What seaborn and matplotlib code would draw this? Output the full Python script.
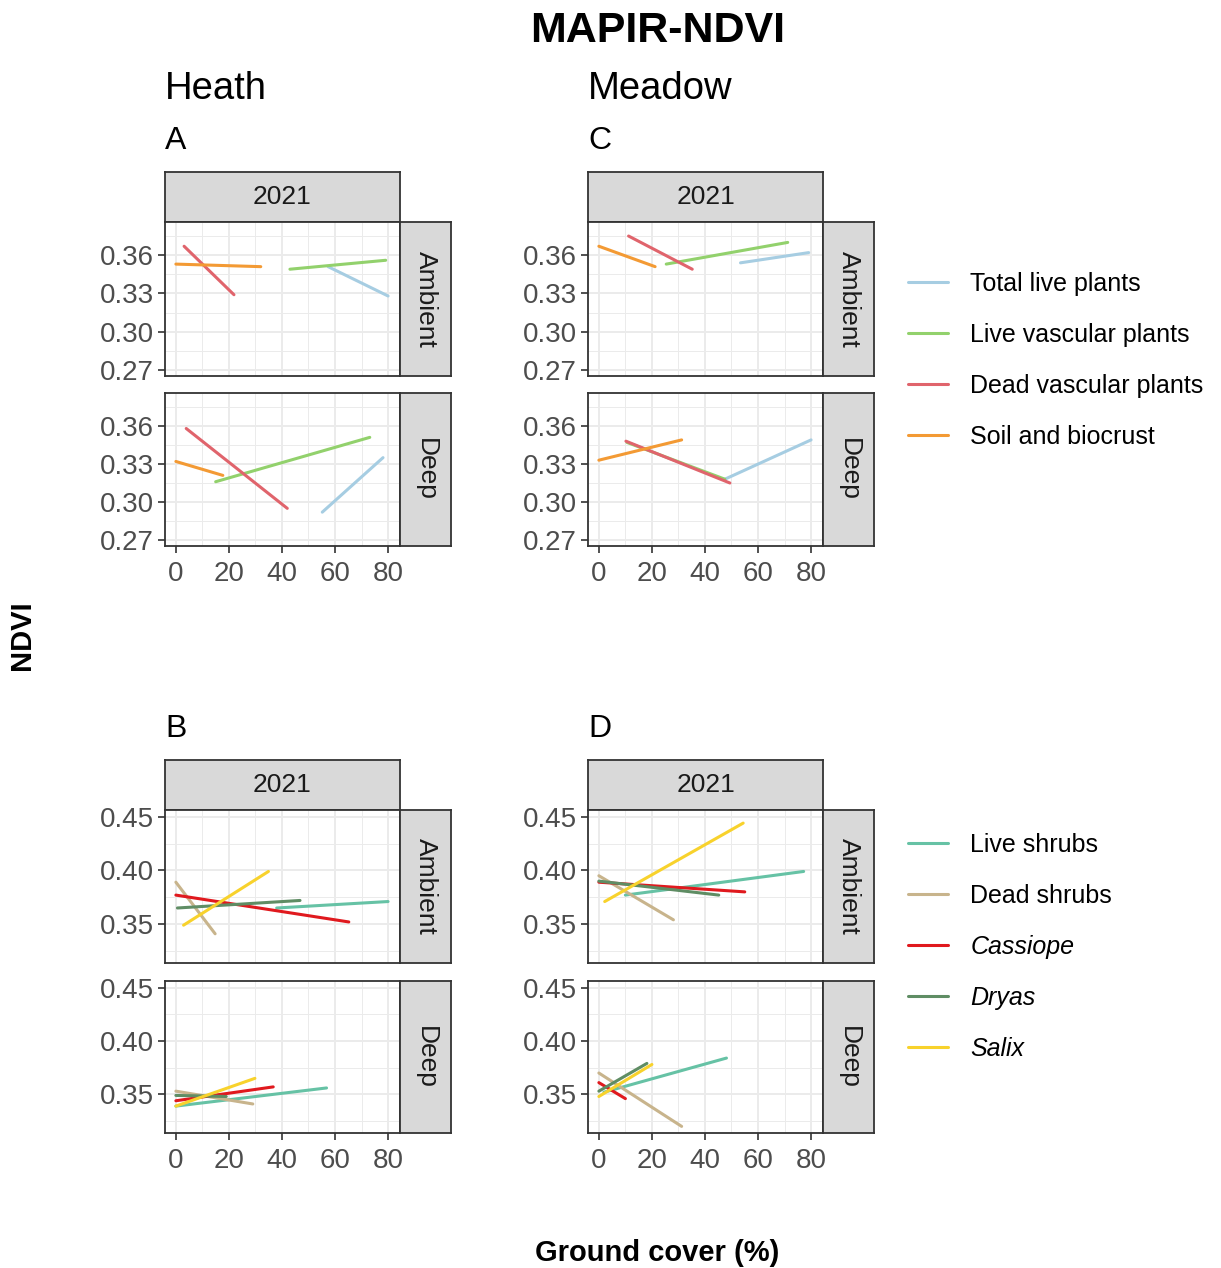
import numpy as np
import pandas as pd
import matplotlib
matplotlib.use("Agg")
import matplotlib.pyplot as plt
import seaborn as sns
from matplotlib.ticker import MultipleLocator

# --------------------------------
# Data (start / end of each fitted line)
# --------------------------------

plant_groups = ["Total live plants", "Live vascular plants", "Dead vascular plants", "Soil and biocrust"]
plant_colors = ["#a6cde2", "#92d16c", "#e0646c", "#f39a34"]

shrub_groups = ["Live shrubs", "Dead shrubs", "Cassiope", "Dryas", "Salix"]
shrub_colors = ["#66c2a5", "#c8b48c", "#e0191e", "#5f8d64", "#f8d22c"]
italic_names = ["Cassiope", "Dryas", "Salix"]

# Heath - plant groups
heath_plants_ambient_x = [[57.4, 80.0], [43.0, 79.1], [3.1, 21.9], [0.0, 32.0]]
heath_plants_ambient_y = [[0.351, 0.328], [0.349, 0.356], [0.367, 0.329], [0.353, 0.351]]
heath_plants_deep_x = [[55.2, 78.1], [15.0, 73.1], [3.9, 42.0], [0.0, 17.7]]
heath_plants_deep_y = [[0.292, 0.335], [0.316, 0.351], [0.358, 0.295], [0.332, 0.321]]

# Meadow - plant groups
meadow_plants_ambient_x = [[53.4, 79.1], [25.4, 71.2], [11.2, 35.2], [0.0, 21.2]]
meadow_plants_ambient_y = [[0.354, 0.362], [0.353, 0.370], [0.375, 0.349], [0.367, 0.351]]
meadow_plants_deep_x = [[47.5, 80.0], [10.6, 47.5], [10.2, 49.4], [0.0, 31.2]]
meadow_plants_deep_y = [[0.318, 0.349], [0.347, 0.318], [0.348, 0.315], [0.333, 0.349]]

# Heath - shrubs
heath_shrubs_ambient_x = [[38.0, 80.0], [0.0, 14.8], [0.0, 65.2], [0.6, 46.8], [2.9, 34.9]]
heath_shrubs_ambient_y = [[0.365, 0.371], [0.389, 0.341], [0.377, 0.352], [0.365, 0.372], [0.349, 0.399]]
heath_shrubs_deep_x = [[0.0, 56.8], [0.0, 29.0], [0.0, 36.7], [0.0, 19.0], [0.0, 29.8]]
heath_shrubs_deep_y = [[0.339, 0.356], [0.353, 0.341], [0.344, 0.357], [0.349, 0.348], [0.339, 0.365]]

# Meadow - shrubs
meadow_shrubs_ambient_x = [[10.0, 77.2], [0.0, 28.1], [0.0, 55.0], [0.0, 45.2], [2.2, 54.4]]
meadow_shrubs_ambient_y = [[0.377, 0.399], [0.395, 0.354], [0.389, 0.380], [0.390, 0.377], [0.371, 0.444]]
meadow_shrubs_deep_x = [[1.9, 48.1], [0.0, 31.2], [0.0, 10.0], [0.0, 18.1], [0.0, 20.0]]
meadow_shrubs_deep_y = [[0.352, 0.384], [0.370, 0.320], [0.361, 0.346], [0.353, 0.379], [0.348, 0.378]]

plant_yticks = [0.27, 0.30, 0.33, 0.36]
shrub_yticks = [0.35, 0.40, 0.45]
x_ticks = [0, 20, 40, 60, 80]


def to_frame(groups, xs, ys):
    rows = []
    for g, x, y in zip(groups, xs, ys):
        for xi, yi in zip(x, y):
            rows.append({"group": g, "cover": xi, "ndvi": yi})
    return pd.DataFrame(rows)


# --------------------------------
# Figure setup
# --------------------------------

sns.set_theme(style="white")
plt.rcParams["font.family"] = ["Liberation Sans", "DejaVu Sans"]
plt.rcParams["text.color"] = "black"

W, H = 1221, 1268
fig = plt.figure(figsize=(W / 100, H / 100), dpi=100)
fig.patch.set_facecolor("white")


def px_axes(l, t, r, b):
    return fig.add_axes([l / W, 1 - b / H, (r - l) / W, (b - t) / H])


def strip(l, t, r, b, label, rotation=0):
    ax = px_axes(l, t, r, b)
    ax.set_facecolor("#d9d9d9")
    ax.set_xticks([])
    ax.set_yticks([])
    for s in ax.spines.values():
        s.set_color("#333333")
        s.set_linewidth(1.3)
    ax.text(0.5, 0.5, label, transform=ax.transAxes, ha="center", va="center",
            rotation=rotation, fontsize=19, color="#1a1a1a")


def panel(l, t, r, b, df, groups, colors, ylim, yticks, bottom_axis, legend=False):
    ax = px_axes(l, t, r, b)
    ax.set_facecolor("white")
    sns.lineplot(data=df, x="cover", y="ndvi", hue="group", hue_order=groups,
                 palette=colors, estimator=None, sort=False, lw=2.2, ax=ax,
                 legend=legend)
    ax.set_xlim(-4.1, 84.5)
    ax.set_ylim(*ylim)
    ax.set_xticks(x_ticks)
    ax.xaxis.set_minor_locator(MultipleLocator(10))
    ax.set_yticks(yticks)
    step = yticks[1] - yticks[0]
    ax.yaxis.set_minor_locator(MultipleLocator(step / 2))
    ax.set_yticklabels([f"{v:.2f}" for v in yticks])
    ax.grid(which="major", color="#ebebeb", lw=1.4)
    ax.grid(which="minor", color="#ebebeb", lw=0.7)
    ax.set_axisbelow(True)
    for s in ax.spines.values():
        s.set_color("#333333")
        s.set_linewidth(1.3)
    ax.tick_params(which="major", colors="#333333", length=5, width=1.2,
                   labelsize=20, labelcolor="#4d4d4d", pad=3,
                   left=True, bottom=bottom_axis, labelbottom=bottom_axis)
    ax.tick_params(axis="x", which="major", pad=6)
    ax.tick_params(which="minor", length=0)
    ax.set_xlabel("")
    ax.set_ylabel("")
    return ax


# --------------------------------
# Panels
# --------------------------------

col_left = {"Heath": 165, "Meadow": 588}
pw, sw = 235, 51

sections = [
    # (strip top, ambient top/bottom, deep top/bottom)
    (172, (222, 376), (393, 546)),
    (760, (810, 963), (981, 1133)),
]

plant_data = {
    "Heath": [(heath_plants_ambient_x, heath_plants_ambient_y), (heath_plants_deep_x, heath_plants_deep_y)],
    "Meadow": [(meadow_plants_ambient_x, meadow_plants_ambient_y), (meadow_plants_deep_x, meadow_plants_deep_y)],
}
shrub_data = {
    "Heath": [(heath_shrubs_ambient_x, heath_shrubs_ambient_y), (heath_shrubs_deep_x, heath_shrubs_deep_y)],
    "Meadow": [(meadow_shrubs_ambient_x, meadow_shrubs_ambient_y), (meadow_shrubs_deep_x, meadow_shrubs_deep_y)],
}

legend_handles = {}
for si, (strip_top, amb, deep) in enumerate(sections):
    if si == 0:
        data, groups, colors, ylim, yticks = plant_data, plant_groups, plant_colors, (0.2653, 0.386), plant_yticks
    else:
        data, groups, colors, ylim, yticks = shrub_data, shrub_groups, shrub_colors, (0.3138, 0.4562), shrub_yticks
    for site, l in col_left.items():
        r = l + pw
        strip(l, strip_top, r, amb[0], "2021")
        for ri, ((t, b), label) in enumerate(zip([amb, deep], ["Ambient", "Deep"])):
            xs, ys = data[site][ri]
            df = to_frame(groups, xs, ys)
            want_leg = (site == "Heath" and ri == 0)
            ax = panel(l, t, r, b, df, groups, colors, ylim, yticks, bottom_axis=(ri == 1), legend=want_leg)
            if want_leg:
                h, lab = ax.get_legend_handles_labels()
                legend_handles[si] = (h, lab)
                if ax.get_legend() is not None:
                    ax.get_legend().remove()
            strip(r, t, r + sw, b, label, rotation=-90)

# --------------------------------
# Legends
# --------------------------------

for si, yc in [(0, 360.5), (1, 947)]:
    h, lab = legend_handles[si]
    for hh in h:
        hh.set_linewidth(2.2)
    leg = fig.legend(h, lab, loc="center left", bbox_to_anchor=(908 / W, 1 - yc / H),
                     frameon=False, fontsize=18, borderpad=0, borderaxespad=0,
                     handlelength=1.6, handletextpad=0.9, labelspacing=1.08)
    for t in leg.get_texts():
        t.set_color("#000000")
        if t.get_text() in italic_names:
            t.set_fontstyle("italic")

# --------------------------------
# Titles and labels
# --------------------------------

def ftext(x, y, s, **kw):
    fig.text(x / W, 1 - y / H, s, color="black", **kw)

ftext(658, 42, "MAPIR-NDVI", ha="center", va="baseline", fontsize=31, fontweight="bold")
ftext(165, 99, "Heath", ha="left", va="baseline", fontsize=27.5)
ftext(588, 99, "Meadow", ha="left", va="baseline", fontsize=27.5)
ftext(165, 149, "A", ha="left", va="baseline", fontsize=23)
ftext(588, 149, "C", ha="left", va="baseline", fontsize=23)
ftext(165, 737, "B", ha="left", va="baseline", fontsize=23)
ftext(588, 737, "D", ha="left", va="baseline", fontsize=23)
ftext(22, 635, "NDVI", ha="center", va="center", rotation=90, fontsize=21, fontweight="bold")
ftext(657, 1253, "Ground cover (%)", ha="center", va="center", fontsize=21, fontweight="bold")

fig.savefig("out.png", dpi=100, facecolor="white")
